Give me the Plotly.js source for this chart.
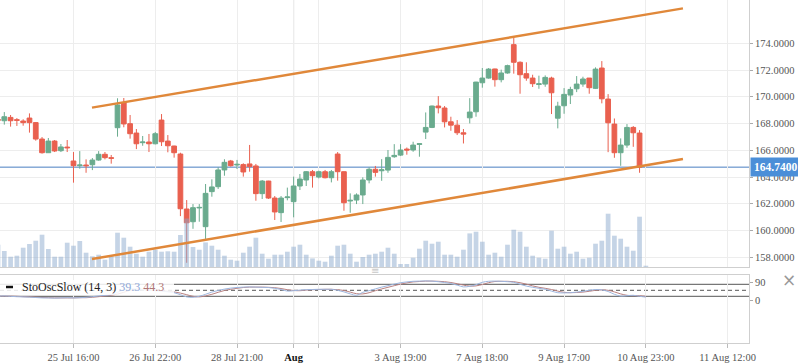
<!DOCTYPE html>
<html>
<head>
<meta charset="utf-8">
<script src="https://cdn.plot.ly/plotly-3.0.1.min.js"></script>
<style>html,body{margin:0;padding:0;background:#fff;}#chart{width:798px;height:363px;}</style>
</head>
<body>
<div id="chart"></div>
<script>
// Candle OHLC, index -1 .. 101
const openP = [
168.30,168.21,168.46,168.29,168.19,168.41,168.07,166.84,165.82,166.69,
165.97,166.24,165.20,164.85,164.90,164.92,165.27,165.70,165.45,167.69,
169.56,167.99,167.29,166.57,166.62,166.49,168.26,166.69,166.32,165.72,
161.61,160.66,161.69,160.29,162.91,163.28,164.53,165.20,164.90,164.93,
164.98,164.83,162.76,163.70,162.43,161.34,162.46,162.16,163.33,163.78,
164.40,164.00,164.40,163.95,165.72,164.40,162.21,162.28,162.66,163.78,
164.58,164.47,164.52,165.52,165.64,166.09,166.02,166.44,167.36,167.71,
169.31,169.16,168.13,167.88,167.31,168.43,168.88,171.05,171.40,172.08,
171.28,171.78,173.90,172.58,171.73,171.40,170.92,170.95,171.40,168.40,
169.33,170.13,170.60,170.95,171.40,170.63,172.15,169.83,167.96,165.82,
166.39,167.71,167.29];
const highP = [
168.36,168.86,168.64,168.41,168.32,168.76,168.10,166.99,166.92,166.77,
166.47,166.77,165.87,165.94,165.32,165.42,165.94,165.87,165.65,169.89,
169.91,168.64,167.59,167.07,167.22,167.37,168.71,167.14,166.34,165.82,
162.28,161.98,161.98,163.48,163.83,164.73,165.33,165.28,165.28,165.03,
166.40,164.98,163.78,163.72,162.58,162.58,163.21,164.03,164.23,164.45,
164.53,164.48,164.53,164.53,165.87,164.42,162.78,162.78,163.98,164.73,
164.83,165.34,166.02,166.46,166.46,166.21,166.64,166.51,168.83,169.34,
170.05,169.31,168.51,168.26,167.59,169.90,171.12,172.15,172.15,172.10,
172.03,172.40,174.45,172.65,172.58,171.65,171.58,171.60,171.50,169.63,
170.65,170.75,171.55,171.50,171.40,172.20,172.67,170.20,168.38,166.89,
167.96,167.81,167.51];
const lowP = [
168.18,167.92,167.77,167.82,167.84,167.32,166.72,165.75,165.82,165.87,
165.87,165.87,163.58,164.62,164.32,164.52,165.22,165.32,165.00,167.02,
167.72,166.87,166.09,166.34,165.87,166.44,166.32,165.85,165.45,161.08,
157.59,160.13,160.66,159.37,162.53,163.11,164.10,164.78,164.60,164.03,
164.40,162.23,162.36,162.36,160.79,160.64,162.26,160.99,163.03,163.33,
163.21,163.90,163.90,163.60,163.73,161.48,161.33,161.98,161.98,163.53,
164.03,163.72,164.32,165.44,165.57,165.67,165.89,165.52,166.84,167.66,
168.76,167.71,167.46,167.14,166.51,168.01,168.51,170.68,171.35,170.76,
171.08,171.73,171.73,170.23,171.20,170.73,170.60,170.75,168.71,167.64,
168.73,169.46,170.35,170.75,170.23,170.58,169.51,165.86,165.44,164.84,
166.19,166.26,164.32];
const closeP = [
168.25,168.51,168.21,168.24,168.07,168.07,166.84,165.82,166.69,165.95,
166.25,166.19,164.85,164.90,164.85,165.27,165.70,165.45,165.40,169.39,
167.97,167.24,166.49,166.62,166.49,167.24,166.64,166.34,165.82,161.63,
160.58,161.71,161.73,162.78,163.26,164.53,165.10,164.85,164.95,164.38,
164.78,162.76,163.70,162.43,161.39,162.43,162.51,163.33,163.85,164.40,
164.10,164.40,163.95,164.40,164.40,162.08,162.26,162.66,163.78,164.58,
164.35,164.54,165.47,165.62,166.02,166.02,166.39,166.49,167.71,169.31,
169.18,168.13,167.88,167.31,167.21,168.86,171.10,171.40,172.07,171.28,
171.78,172.33,172.58,171.65,171.40,170.98,170.97,171.45,170.30,169.30,
170.18,170.55,170.95,171.33,170.68,172.07,169.85,168.06,165.82,166.39,
167.71,167.31,164.74];
// Volume, index -1 .. 102
const volume = [
22.3,16,10.3,11.3,19.3,23,26.3,32.3,18,10.3,
10.3,24.3,21.3,26,14.3,10.7,12.3,7.3,10.7,34.3,
29.3,20.3,13.3,10.3,15.3,17.3,15.3,15.7,15.3,32,
48.5,20,17.3,24.6,21.3,17.3,11.3,7.3,6.3,14.3,
20.3,29.3,13.3,8.3,12.3,12.3,15.3,20.3,22.3,12.3,
8.6,6.3,5.3,11.3,21.3,22.3,13.3,5.3,10,12.3,
13.3,15.3,19.3,13.3,3,3,9.3,18.3,26.3,23.3,
25.3,12.3,12.3,10.3,17.3,33.6,35.3,25.3,12.3,14.3,
10.3,22.3,37.3,35.3,20.3,11.3,9.3,8.3,36.3,18.3,
20.3,13.3,15.3,8.3,9.3,23.3,26.3,53.3,31.3,28.3,
20.3,16.3,50.3,1.3];
// Slow stochastic, index -1 .. 102
const stochK = [
20,22,20,18,17,16,14,12,12,11,
12,13,12,13,15,18,22,25,28,40,
52,58,55,52,50,48,46,42,38,28,
17,15,20,30,41,49,56,61,64,66,
67,66,65,64,60,54,46,48,51,53,
54,55,55,55,50,42,32,25,40,48,
57,66,73,81,88,92,95,96,97,96,
93,89,84,76,67,70,78,90,95,96,
95,93,90,80,71,65,60,55,46,38,
37,38,41,45,50,54,52,44,30,21,
23,25,20,16];
const stochD = [
21,21,21,20,18,17,16,14,13,12,
12,12,12,13,13,15,18,22,25,31,
40,50,55,55,52,50,48,45,42,36,
28,20,17,22,30,40,49,55,60,64,
66,66,66,65,63,59,53,49,48,51,
53,54,55,55,53,49,41,33,32,38,
48,57,65,73,81,87,92,94,96,96,
95,93,89,83,76,71,72,79,88,94,
95,95,93,88,81,72,65,60,54,46,
40,38,39,41,45,50,52,50,42,32,
25,23,23,20];
const stochLevels = [80, 50, 20];
// Trend channel
const channelX = [13.94, 107.9];
const upperY = [169.19, 176.61];
const lowerY = [157.87, 165.35];
// Axis ticks
const xTickPos = [11, 24, 37, 46, 50, 63, 76, 89, 102, 115];
const xTickLabels = ['25 Jul 16:00','26 Jul 22:00','28 Jul 21:00','Aug','','3 Aug 19:00','7 Aug 18:00','9 Aug 17:00','10 Aug 23:00','11 Aug 12:00'];
const priceTicks = [158,160,162,164,166,168,170,172,174];
const stochTicks = [0, 90];
const legendName = 'StoOscSlow (14, 3)';
const legendK = '39.3', legendD = '44.3';

const candleX = openP.map((_, i) => i - 1);
const volX = volume.map((_, i) => i - 1);
const lastPrice = closeP[closeP.length - 1];

const W = 798, H = 363, ML = 0, MR = 49, MT = 0, MB = 20;
const PH = H - MT - MB, PW = W - ML - MR;
const py = y => (PH - (y - MT)) / PH; // pixel y -> paper
const px = x => (x - ML) / PW;

const GREEN = '#6aab8e', RED = '#e9604f';
const serif = 'Liberation Serif, Times New Roman, serif';

const traces = [
  {type:'candlestick', x:candleX, open:openP, high:highP, low:lowP, close:closeP,
   xaxis:'x2', yaxis:'y', hoverinfo:'skip', whiskerwidth:0,
   increasing:{line:{color:GREEN,width:1}, fillcolor:GREEN},
   decreasing:{line:{color:RED,width:1}, fillcolor:RED}},
  {type:'bar', x:volX, y:volume, xaxis:'x2', yaxis:'y3', width:0.75,
   marker:{color:'rgba(140,170,205,0.5)', line:{width:0}}, hoverinfo:'skip'},
  {type:'scatter', mode:'lines', x:channelX, y:upperY, xaxis:'x2', yaxis:'y4',
   line:{color:'#e0883a', width:2.5}, hoverinfo:'skip'},
  {type:'scatter', mode:'lines', x:channelX, y:lowerY, xaxis:'x2', yaxis:'y4',
   line:{color:'#e0883a', width:2.5}, hoverinfo:'skip'},
  {type:'scatter', mode:'lines', x:volX, y:stochD, xaxis:'x', yaxis:'y2',
   line:{color:'#b98282', width:1, shape:'spline'}, hoverinfo:'skip'},
  {type:'scatter', mode:'lines', x:volX, y:stochK, xaxis:'x', yaxis:'y2',
   line:{color:'#9db6df', width:1, shape:'spline'}, hoverinfo:'skip'}
];

const xRange = [-0.684, 118.4];
const priceRange = [157.275, 177.237];
const tickFont = {family:serif, size:10.5, color:'#555'};
const ticktext = xTickLabels.map(t => t === 'Aug' ? '<span style="color:#111"><b>Aug</b></span>' : t);

const mainDomain = [py(267), 1];
const stochDomain = [0, py(275)];

const augX = xTickPos[xTickLabels.indexOf('Aug')];

const shapes = [
  {type:'line', xref:'x2', yref:'y domain', x0:augX, x1:augX, y0:0, y1:1, line:{color:'#c4c4c4', width:1}, layer:'below'},
  {type:'line', xref:'x', yref:'y2 domain', x0:augX, x1:augX, y0:0, y1:1, line:{color:'#c4c4c4', width:1}, layer:'below'},
  {type:'line', xref:'paper', yref:'y', x0:0, x1:1, y0:lastPrice, y1:lastPrice, line:{color:'#4a7fc1', width:1}, layer:'below'}
];
stochLevels.forEach(v => shapes.push({type:'line', xref:'paper', yref:'y2', x0:0, x1:1, y0:v, y1:v,
  line:{color:'#555', width:1, dash: v === 50 ? '4px,3px' : 'solid'}, layer:'below'}));
shapes.push({type:'rect', xref:'paper', yref:'paper', x0:0, x1:px(174), y0:py(295), y1:py(280),
  fillcolor:'rgba(255,255,255,0.85)', line:{width:0}, layer:'above'});
shapes.push({type:'line', xref:'paper', yref:'paper', x0:px(6), x1:px(13), y0:py(287), y1:py(287),
  line:{color:'#111', width:2.5}, layer:'above'});

const annotations = [
  {xref:'paper', yref:'y', x:1, y:lastPrice, xanchor:'left', yanchor:'middle', xshift:1, showarrow:false,
   text:'<b>' + lastPrice.toFixed(4) + '</b>', font:{family:serif, size:11.5, color:'#fff'},
   bgcolor:'#4a8ed8', borderpad:3},
  {xref:'paper', yref:'paper', x:px(20), y:py(287), xanchor:'left', yanchor:'middle', showarrow:false,
   text: legendName + ' <span style="color:#8fa8d8">' + legendK + '</span> <span style="color:#b07878">' + legendD + '</span>',
   font:{family:serif, size:12, color:'#222'}},
  {xref:'paper', yref:'paper', x:px(789), y:py(280), xanchor:'center', yanchor:'middle', showarrow:false,
   text:'×', font:{family:'DejaVu Sans', size:17, color:'#999'}},
  {xref:'paper', yref:'paper', x:px(375), y:py(270.5), xanchor:'center', yanchor:'middle', showarrow:false,
   text:'≡', font:{family:'DejaVu Sans', size:10, color:'#c8c8c8'}}
];

const layout = {
  width:W, height:H, margin:{l:ML, r:MR, t:MT, b:MB, pad:0},
  paper_bgcolor:'#fff', plot_bgcolor:'#fff', showlegend:false,
  boxgap:0.25, boxgroupgap:0,
  xaxis:{domain:[0,1], anchor:'y2', range:xRange, tickmode:'array', tickvals:xTickPos, ticktext:ticktext,
    showgrid:true, gridcolor:'#ededed', zeroline:false, showline:true, linecolor:'#cfcfcf', mirror:true,
    ticks:'outside', ticklen:4, tickcolor:'#bbb', tickfont:tickFont, fixedrange:true},
  xaxis2:{domain:[0,1], anchor:'y', matches:'x', range:xRange, tickmode:'array', tickvals:xTickPos,
    showticklabels:false, ticks:'', showgrid:true, gridcolor:'#ededed', zeroline:false,
    showline:true, linecolor:'#cfcfcf', rangeslider:{visible:false}},
  yaxis:{domain:mainDomain, anchor:'x2', side:'right', range:priceRange, tickmode:'array', tickvals:priceTicks,
    ticktext:priceTicks.map(v => v.toFixed(4)), showgrid:true, gridcolor:'#ededed', zeroline:false,
    showline:true, linecolor:'#cfcfcf', ticks:'outside', ticklen:3, tickcolor:'#aaa', tickfont:tickFont},
  yaxis2:{domain:stochDomain, anchor:'x', side:'right', range:[-213.5, 126.5], tickmode:'array', tickvals:stochTicks,
    ticktext:stochTicks.map(String), showgrid:false, zeroline:false, showline:true, linecolor:'#cfcfcf',
    ticks:'outside', ticklen:3, tickcolor:'#aaa', tickfont:tickFont},
  yaxis3:{overlaying:'y', anchor:'x2', range:[0, 267], visible:false, showgrid:false, zeroline:false},
  yaxis4:{overlaying:'y', anchor:'x2', range:priceRange, visible:false, showgrid:false, zeroline:false},
  shapes:shapes, annotations:annotations
};

Plotly.newPlot('chart', traces, layout, {staticPlot:true, displayModeBar:false});
</script>
</body>
</html>
